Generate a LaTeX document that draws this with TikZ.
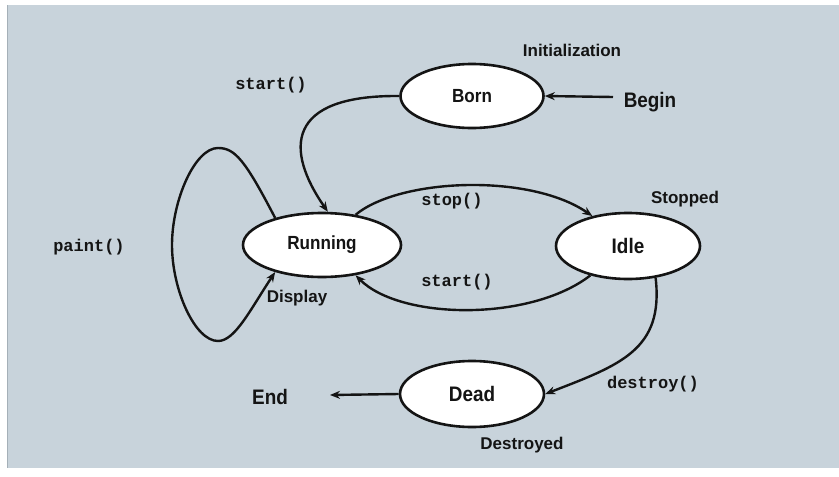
\documentclass[tikz,border=0pt]{standalone}
\usepackage{fontspec}
\setmainfont{Liberation Sans}
\newfontfamily\statefont[FakeStretch=0.9]{Liberation Sans}
\setmonofont{Liberation Mono}
\usetikzlibrary{shapes.geometric,arrows.meta}
\definecolor{bgc}{RGB}{200,211,219}
\definecolor{edgec}{RGB}{165,176,184}
\definecolor{ink}{RGB}{20,20,20}
\tikzset{
  statenode/.style={ellipse, draw=ink, line width=2.6pt, fill=white, inner sep=0pt, text=ink},
  bigtext/.style={font=\statefont\bfseries\fontsize{20}{20}\selectfont, text=ink},
  lbl/.style={font=\bfseries\fontsize{17}{17}\selectfont, text=ink, inner sep=0pt},
  codelbl/.style={font=\ttfamily\bfseries\fontsize{17}{17}\selectfont, text=ink, inner sep=0pt},
  conn/.style={draw=ink, line width=2.4pt, -{Stealth[length=10pt,width=8pt]}}
}
\begin{document}
\begin{tikzpicture}[x=1pt,y=-1pt]
\useasboundingbox (0,0) rectangle (839,477);
\fill[bgc] (7,5) rectangle (839,468);
\draw[edgec, line width=1.5pt] (7.5,5) -- (7.5,468);

% states
\node[statenode, minimum width=143pt, minimum height=64pt, bigtext, font=\statefont\bfseries\fontsize{19}{19}\selectfont] (born) at (472,96) {Born};
\node[statenode, minimum width=158pt, minimum height=64pt, bigtext, font=\statefont\bfseries\fontsize{19}{19}\selectfont] (run) at (322,245) {Running};
\node[statenode, minimum width=144pt, minimum height=66pt, bigtext, font=\statefont\bfseries\fontsize{21}{21}\selectfont] (idle) at (628,246) {Idle};
\node[statenode, minimum width=144pt, minimum height=66pt, bigtext, font=\statefont\bfseries\fontsize{21}{21}\selectfont] (dead) at (472,394) {Dead};

% plain labels
\node[lbl] (init) at (572,50) {Initialization};
\node[lbl] (stopped) at (685,199) {Stopped};
\node[lbl] (display) at (297,298) {Display};
\node[lbl] (destroyed) at (522,445) {Destroyed};
\node[bigtext, font=\statefont\bfseries\fontsize{21}{21}\selectfont, inner sep=0pt] (begin) at (650,102) {Begin};
\node[bigtext, font=\statefont\bfseries\fontsize{21}{21}\selectfont, inner sep=0pt] (endn) at (270,397) {End};

% code labels
\node[codelbl] (lstart1) at (271,85) {start()};
\node[codelbl] (lstop) at (452,201) {stop()};
\node[codelbl] (lstart2) at (457,282) {start()};
\node[codelbl] (lpaint) at (89,247) {paint()};
\node[codelbl] (ldestroy) at (653,384) {destroy()};

% free ends
\coordinate (beginpt) at (613,97);
\coordinate (endpt) at (330,395);

% connectors
\draw[conn] (beginpt) -- (born.east);
\draw[conn] (born.west) .. controls (285,95) and (285,150) .. (run.80);
\draw[conn] (run.42) .. controls (400,178) and (530,173) .. (idle.140);
\draw[conn] (idle.218) .. controls (530,322) and (400,320) .. (run.-42);
\draw[conn] (run.150) .. controls (245,160) and (235,148) .. (218,148)
  .. controls (195,148) and (172,200) .. (172,245)
  .. controls (172,290) and (195,341) .. (218,341)
  .. controls (235,341) and (250,310) .. (run.210);
\draw[conn] (idle.-49) .. controls (664,350) and (620,365) .. (dead.east);
\draw[conn] (dead.west) -- (endpt);
\end{tikzpicture}
\end{document}
